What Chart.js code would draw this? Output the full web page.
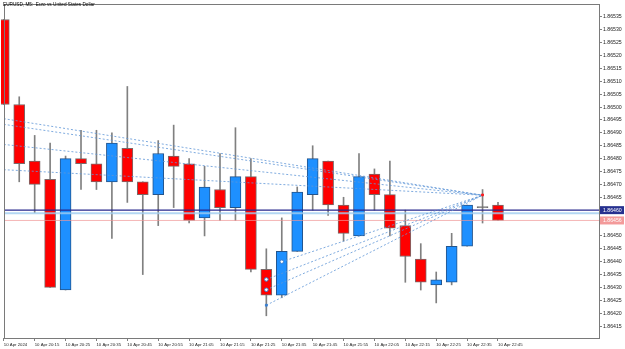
<!DOCTYPE html>
<html>
<head>
<meta charset="utf-8">
<script src="https://cdn.jsdelivr.net/npm/chart.js@4.4.1/dist/chart.umd.min.js"></script>
<style>
  html, body { margin: 0; padding: 0; background: #fff; }
  #wrap { width: 625px; height: 349px; }
</style>
</head>
<body>
<div id="wrap"><canvas id="chart" width="625" height="349"></canvas></div>
<script>
// EURUSD M5 candles, 10 Apr 20:05 .. 22:45 (one per 5 minutes)
const opens  = [1.86534, 1.86501, 1.86479, 1.86472, 1.86429, 1.86480, 1.86478, 1.86471, 1.86484, 1.86471, 1.86466,
                1.86481, 1.86478, 1.86457, 1.86468, 1.86461, 1.86473, 1.86437, 1.86427, 1.86444, 1.86466, 1.86479,
                1.86462, 1.86450, 1.86474, 1.86466, 1.86454, 1.86441, 1.86431, 1.86432, 1.86446, 1.86461, 1.86462];
const highs  = [1.86534, 1.86504, 1.86489, 1.86486, 1.86481, 1.86491, 1.86491, 1.86490, 1.86508, 1.86471, 1.86487,
                1.86493, 1.86480, 1.86477, 1.86482, 1.86492, 1.86480, 1.86445, 1.86457, 1.86469, 1.86485, 1.86479,
                1.86465, 1.86482, 1.86476, 1.86479, 1.86460, 1.86447, 1.86436, 1.86451, 1.86462, 1.86468, 1.86463];
const lows   = [1.86501, 1.86471, 1.86459, 1.86430, 1.86429, 1.86468, 1.86468, 1.86449, 1.86463, 1.86435, 1.86454,
                1.86461, 1.86455, 1.86450, 1.86456, 1.86456, 1.86436, 1.86419, 1.86426, 1.86444, 1.86460, 1.86458,
                1.86448, 1.86450, 1.86460, 1.86450, 1.86432, 1.86429, 1.86424, 1.86431, 1.86446, 1.86455, 1.86456];
const closes = [1.86501, 1.86478, 1.86470, 1.86430, 1.86480, 1.86478, 1.86471, 1.86486, 1.86471, 1.86466, 1.86482,
                1.86477, 1.86456, 1.86469, 1.86461, 1.86473, 1.86437, 1.86427, 1.86444, 1.86467, 1.86480, 1.86462,
                1.86451, 1.86473, 1.86466, 1.86453, 1.86442, 1.86432, 1.86433, 1.86446, 1.86462, 1.86461, 1.86456];

// time axis: a label every second bar
const xTickIdx = [0, 2, 4, 6, 8, 10, 12, 14, 16, 18, 20, 22, 24, 26, 28, 30, 32];
const xTickLabels = ['10 Apr 2024', '10 Apr 20:15', '10 Apr 20:25', '10 Apr 20:35', '10 Apr 20:45', '10 Apr 20:55',
                     '10 Apr 21:05', '10 Apr 21:15', '10 Apr 21:25', '10 Apr 21:35', '10 Apr 21:45', '10 Apr 21:55',
                     '10 Apr 22:05', '10 Apr 22:15', '10 Apr 22:25', '10 Apr 22:35', '10 Apr 22:45'];
const yTicks = [1.86415, 1.86420, 1.86425, 1.86430, 1.86435, 1.86440, 1.86445, 1.86450, 1.86455, 1.86460,
                1.86465, 1.86470, 1.86475, 1.86480, 1.86485, 1.86490, 1.86495, 1.86500, 1.86505, 1.86510,
                1.86515, 1.86520, 1.86525, 1.86530, 1.86535];

// dotted trend lines, all meeting at one point
const trendEnd = [31, 1.864658];
const upperTrendStarts = [[0, 1.864955], [0, 1.864933], [0, 1.864855], [0, 1.864757]];
const lowerTrendStarts = [[17, 1.864331], [17, 1.864291], [18, 1.864400], [17, 1.864231]];
const orderMarks = [[17, 1.864331], [17, 1.864291], [18, 1.864400]];
const stopMarks = [[17, 1.864231]];
const signalMark = [[31, 1.864659]];

// horizontal price levels
const levelLine = 1.86460;
const bidBand = 1.864588;
const askLine = 1.86456;
const priceBoxes = [['1.86460', levelLine, '#26308f'], ['1.86456', askLine, '#f39a9a']];

const RED = '#ff0000', BLUE = '#1e90ff', DOJI = '#6e6e6e', WICK = '#808080';
const DOT = 'rgba(95,150,215,0.8)';
const X_MIN = 0.0786, X_MAX = 38.54;
const Y_MIN = 1.8641038, Y_MAX = 1.8653962;

const bodyFill = opens.map((o, i) => closes[i] > o ? BLUE : (closes[i] < o ? RED : DOJI));
const bodyEdge = opens.map((o, i) => closes[i] > o ? '#23548c' : (closes[i] < o ? '#7a6a6a' : DOJI));

function hline(v, color, width) {
    return { type: 'line', data: [{x: -2, y: v}, {x: 45, y: v}], borderColor: color, borderWidth: width,
             pointRadius: 0, order: 1 };
}
function trend(s) {
    return { type: 'line', data: [{x: s[0], y: s[1]}, {x: trendEnd[0], y: trendEnd[1]}], borderColor: DOT,
             borderWidth: 1, borderDash: [2, 2], pointRadius: 0, order: 0 };
}
function marks(list, style, radius, fill, edge) {
    return { type: 'line', showLine: false, data: list.map(p => ({x: p[0], y: p[1]})), pointStyle: style,
             pointRadius: radius, pointBackgroundColor: fill, pointBorderColor: edge, pointBorderWidth: 1, order: -1 };
}

const framePlugin = {
    id: 'frame',
    afterDraw(chart) {
        const a = chart.chartArea, ctx = chart.ctx;
        ctx.save();
        ctx.strokeStyle = '#7a7a7a';
        ctx.lineWidth = 1;
        ctx.strokeRect(Math.round(a.left) - 0.5, Math.round(a.top) - 0.5,
                       Math.round(a.right - a.left) + 1, Math.round(a.bottom - a.top) + 1);
        // price boxes on the right axis
        const ys = chart.scales.y;
        ctx.font = '5.2px "Liberation Sans", Arial, sans-serif';
        ctx.textBaseline = 'middle';
        priceBoxes.forEach(b => {
            const y = ys.getPixelForValue(b[1]);
            ctx.fillStyle = b[2];
            ctx.fillRect(a.right + 1, y - 4, 24, 8);
            ctx.fillStyle = '#fff';
            ctx.fillText(b[0], a.right + 4, y + 0.3);
        });
        // symbol caption
        ctx.fillStyle = '#000';
        ctx.font = '4.7px "Liberation Sans", Arial, sans-serif';
        ctx.fillText('EURUSD, M5:  Euro vs United States Dollar', 3, 5);
        ctx.restore();
    }
};

new Chart(document.getElementById('chart'), {
    type: 'bar',
    data: {
        datasets: [
            { type: 'bar', data: opens.map((_, i) => ({x: i, y: [lows[i], highs[i]]})), backgroundColor: WICK,
              barThickness: 1, grouped: false, order: 3, clip: {left: 4, top: 0, right: 0, bottom: 0} },
            { type: 'bar', data: opens.map((o, i) => ({x: i, y: [o, closes[i]]})), backgroundColor: bodyFill,
              borderColor: bodyEdge, borderWidth: 1, borderSkipped: false, barThickness: 11, minBarLength: 1,
              grouped: false, order: 2, clip: {left: 4, top: 0, right: 0, bottom: 0} },
            hline(bidBand, 'rgba(160,205,240,0.8)', 2),
            hline(askLine, 'rgba(240,150,150,0.7)', 1),
            hline(levelLine, '#26268c', 1.3),
            ...upperTrendStarts.map(trend),
            ...lowerTrendStarts.map(trend),
            marks(orderMarks, 'circle', 1.8, '#ffffff', '#3a7fd0'),
            marks(stopMarks, 'rect', 1.3, '#3a7fd0', '#3a7fd0'),
            marks(signalMark, 'rect', 1.3, '#ff2020', '#ff2020')
        ]
    },
    options: {
        responsive: false,
        animation: false,
        layout: { padding: { left: 2, top: 2, right: 0, bottom: 0 } },
        plugins: { legend: { display: false }, tooltip: { enabled: false } },
        scales: {
            x: {
                type: 'linear', min: X_MIN, max: X_MAX, offset: false,
                afterBuildTicks: s => { s.ticks = xTickIdx.map(v => ({value: v})); },
                afterFit: s => { s.height = 11; s.paddingLeft = 0; s.paddingRight = 0; },
                ticks: {
                    autoSkip: false, maxRotation: 0, align: 'start', padding: 1, color: '#222',
                    font: { family: 'Liberation Sans', size: 4.3 },
                    callback: v => xTickLabels[xTickIdx.indexOf(v)]
                },
                grid: { drawOnChartArea: false, offset: false, tickLength: 3, color: '#808080' },
                border: { display: false }
            },
            y: {
                position: 'right', min: Y_MIN, max: Y_MAX,
                afterBuildTicks: s => { s.ticks = yTicks.map(v => ({value: v})); },
                afterFit: s => { s.width = 26; s.paddingTop = 0; s.paddingBottom = 0; },
                ticks: {
                    padding: 1, color: '#222', font: { family: 'Liberation Sans', size: 5.2 },
                    callback: v => v.toFixed(5)
                },
                grid: { drawOnChartArea: false, tickLength: 3, color: '#808080' },
                border: { display: false }
            }
        }
    },
    plugins: [framePlugin]
});
</script>
</body>
</html>
